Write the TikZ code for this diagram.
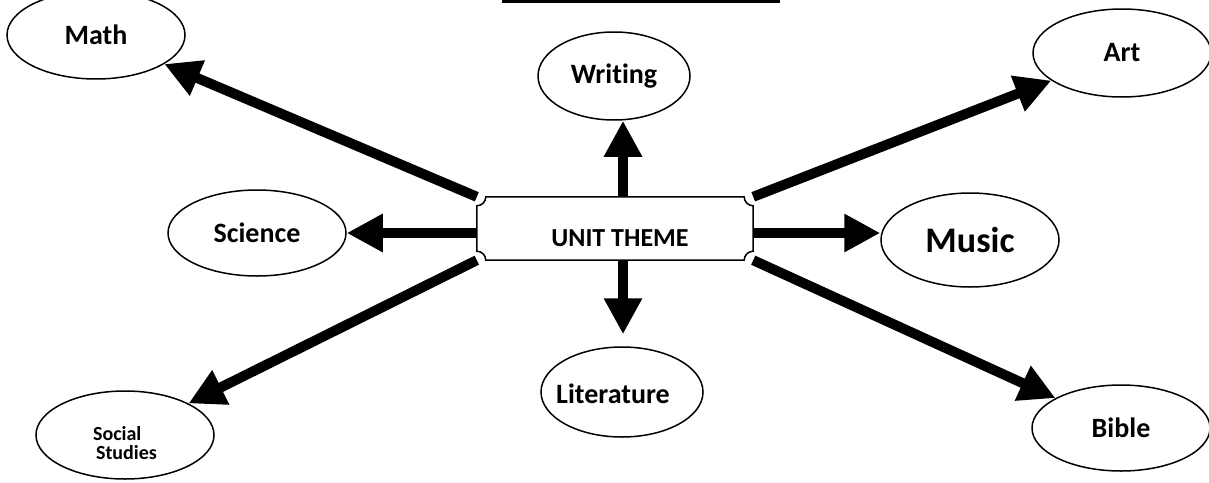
\documentclass[tikz,border=0pt]{standalone}
\usepackage{fontspec}
\setmainfont{Carlito}[Ligatures=NoCommon]
\usetikzlibrary{shapes.geometric, arrows.meta}
\pgfdeclarelayer{background}
\pgfsetlayers{background,main}

\begin{document}
\begin{tikzpicture}[
    x=1pt, y=-1pt,
    topic/.style = {
        draw,
        ellipse,
        fill=white,
        line width=1.5pt,
        inner sep=0pt,
        minimum width=178pt,
        minimum height=88pt,
        font=\bfseries\fontsize{28}{30}\selectfont
    },
    plaque/.style = {
        minimum width=276pt,
        minimum height=63pt,
        inner sep=0pt
    },
    link/.style = {
        line width=10pt,
        -{Triangle[length=36pt,width=36pt]}
    },
    frame/.style = {
        draw,
        fill=white,
        line width=1.5pt
    }
]
    \useasboundingbox (0,0) rectangle (1209,482);

    % Title rule
    \draw[line width=3pt] (502,1.5) -- (780,1.5);

    % Subjects
    \node[topic] (math) at (96,35) {Math};
    \node[topic, minimum width=152pt] (writing) at (614,76) {Writing};
    \node[topic] (art) at (1122,53) {Art};
    \node[topic, minimum height=86pt] (science) at (257,233) {Science};
    \node[topic, minimum height=94pt, font=\bfseries\fontsize{36}{38}\selectfont] (music) at (970,240) {Music};
    \node[topic, minimum width=162pt, minimum height=90pt] (literature) at (622,392) {};
    \node[topic, minimum height=86pt] (bible) at (1121,428) {Bible};
    \node[topic] (social) at (125,435) {};
    \node[align=left, font=\bfseries\fontsize{20}{19}\selectfont] (socialtext) at (125,443) {Social\\\hspace{3pt}Studies};
    \node[font=\bfseries\fontsize{28}{30}\selectfont] (littext) at (613,394) {Literature};

    % Theme in the middle
    \node[plaque] (unit) at (615,228.5) {};
    \node[font=\bfseries\fontsize{26}{28}\selectfont] (unittext) at (620,238) {UNIT THEME};

    \begin{pgfonlayer}{background}
        \draw[link] (unit.north west) -- (math);
        \draw[link] (unit.north east) -- (art);
        \draw[link] (unit.south west) -- (social);
        \draw[link] (unit.south east) -- (bible);
        \draw[link] (unit.west |- science.east) -- (science.east);
        \draw[link] (unit.east |- science.east) -- (music.west |- science.east);
        \draw[link] ([xshift=8pt]unit.north) -- ([xshift=8pt]unit.north |- writing.south);
        \draw[link, shorten >=12pt] ([xshift=8pt]unit.south) -- ([xshift=8pt]unit.south |- literature.north);
        % box with cut corners
        \path[frame] ([xshift=9pt]unit.north west) -- ([xshift=-9pt]unit.north east)
            arc[start angle=180, end angle=270, radius=9pt]
            -- ([yshift=9pt]unit.south east)
            arc[start angle=90, end angle=180, radius=9pt]
            -- ([xshift=9pt]unit.south west)
            arc[start angle=0, end angle=90, radius=9pt]
            -- ([yshift=-9pt]unit.north west)
            arc[start angle=270, end angle=360, radius=9pt]
            -- cycle;
    \end{pgfonlayer}
\end{tikzpicture}
\end{document}
